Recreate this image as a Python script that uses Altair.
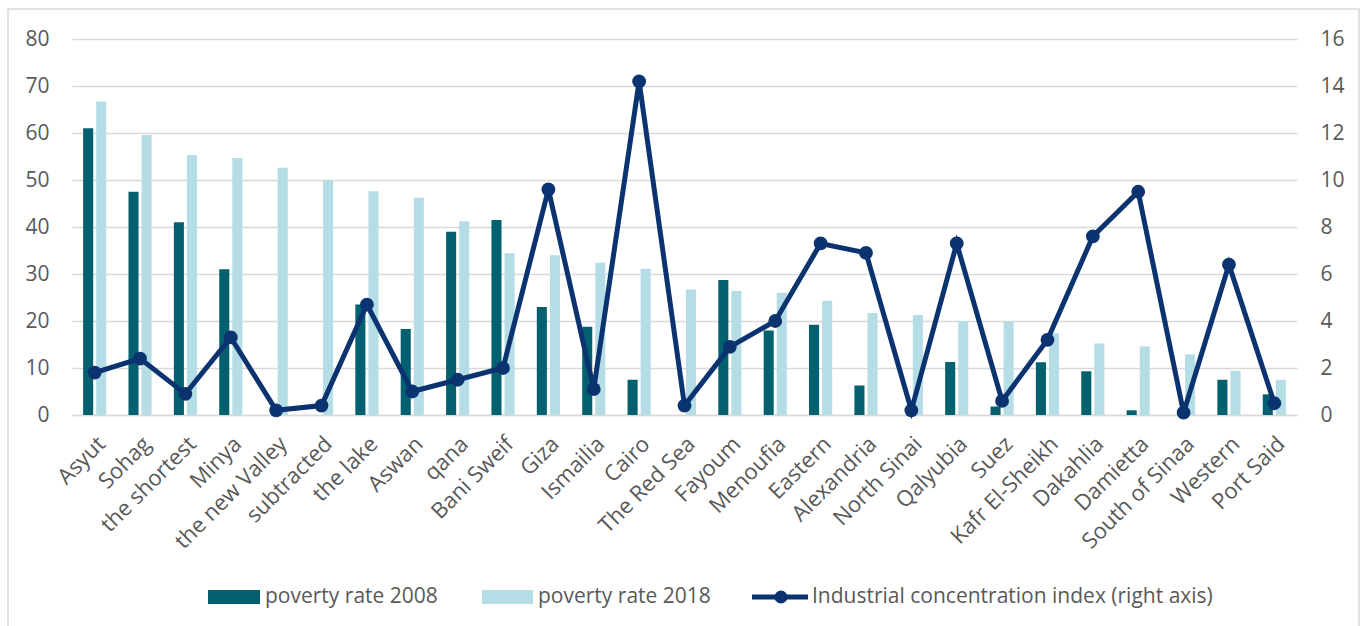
import altair as alt
import pandas as pd

regions = ["Asyut", "Sohag", "the shortest", "Minya", "the new Valley", "subtracted",
           "the lake", "Aswan", "qana", "Bani Sweif", "Giza", "Ismailia", "Cairo",
           "The Red Sea", "Fayoum", "Menoufia", "Eastern", "Alexandria", "North Sinai",
           "Qalyubia", "Suez", "Kafr El-Sheikh", "Dakahlia", "Damietta", "South of Sinaa",
           "Western", "Port Said"]
poverty_2008 = [61.0, 47.5, 41.0, 31.0, 0.0, 0.0, 23.5, 18.3, 39.0, 41.5, 23.0, 18.8, 7.5,
                0.0, 28.7, 18.0, 19.2, 6.3, 0.0, 11.3, 1.8, 11.2, 9.3, 1.0, 0.0, 7.5, 4.4]
poverty_2018 = [66.7, 59.6, 55.3, 54.7, 52.6, 50.0, 47.6, 46.2, 41.2, 34.4, 34.0, 32.4, 31.1,
                26.7, 26.4, 26.0, 24.3, 21.7, 21.3, 20.0, 19.9, 17.4, 15.2, 14.6, 12.9, 9.4, 7.5]
industrial_index = [1.8, 2.4, 0.9, 3.3, 0.2, 0.4, 4.7, 1.0, 1.5, 2.0, 9.6, 1.1, 14.2,
                    0.4, 2.9, 4.0, 7.3, 6.9, 0.2, 7.3, 0.6, 3.2, 7.6, 9.5, 0.1, 6.4, 0.5]
series_names = ["poverty rate 2008", "poverty rate 2018",
                "Industrial concentration index (right axis)"]

DARK = "#03606f"
LIGHT = "#b5dde6"
NAVY = "#0b3370"
GRID = "#d9d9d9"
TEXT = "#595959"
FONT = "Open Sans"

bars_df = pd.DataFrame({
    "region": regions * 2,
    "series": [series_names[0]] * len(regions) + [series_names[1]] * len(regions),
    "value": poverty_2008 + poverty_2018,
})
line_df = pd.DataFrame({"region": regions, "index": industrial_index})

W, H = 1225, 376

xscale = alt.Scale(paddingInner=0.49, paddingOuter=0.245)
xaxis = alt.Axis(title=None, labelAngle=-45, labelAlign="right", labelBaseline="top",
                 labelFontSize=22, labelColor=TEXT, labelFont=FONT, ticks=False,
                 domainColor=GRID, domainWidth=1.3, labelPadding=18, grid=False)

bars = alt.Chart(bars_df).mark_bar().encode(
    x=alt.X("region:N", sort=regions, scale=xscale, axis=xaxis),
    xOffset=alt.XOffset("series:N", sort=series_names[:2],
                        scale=alt.Scale(paddingInner=0.23)),
    y=alt.Y("value:Q", scale=alt.Scale(domain=[0, 80]),
            axis=alt.Axis(title=None, values=list(range(0, 81, 10)), grid=True,
                          gridColor=GRID, gridWidth=1.3, ticks=False, domain=False,
                          labelFontSize=21, labelColor=TEXT,
                          labelFont=FONT, labelPadding=23)),
    color=alt.Color("series:N", sort=series_names[:2],
                    scale=alt.Scale(domain=series_names[:2], range=[DARK, LIGHT]),
                    legend=None),
)

yright = alt.Y("index:Q", scale=alt.Scale(domain=[0, 16]),
               axis=alt.Axis(title=None, orient="right", values=list(range(0, 17, 2)),
                             grid=False, ticks=False, domain=False,
                             labelFontSize=21, labelColor=TEXT, labelFont=FONT,
                             labelPadding=23))
line = alt.Chart(line_df).mark_line(color=NAVY, strokeWidth=5).encode(
    x=alt.X("region:N", sort=regions), y=yright)
pts = alt.Chart(line_df).mark_circle(color=NAVY, size=190, opacity=1).encode(
    x=alt.X("region:N", sort=regions), y=yright)
right = alt.layer(line, pts)

# legend (manual)
ly = 558
LFS = 21
leg1 = alt.Chart(pd.DataFrame({"label": [series_names[0]]})).mark_rect(color=DARK).encode(
    x=alt.value(136), x2=alt.value(188), y=alt.value(ly - 7), y2=alt.value(ly + 7))
leg1t = alt.Chart(pd.DataFrame({"label": [series_names[0]]})).mark_text(
    align="left", baseline="middle", fontSize=LFS, font=FONT, color=TEXT).encode(
    x=alt.value(193), y=alt.value(ly), text="label:N")
leg2 = alt.Chart(pd.DataFrame({"label": [series_names[1]]})).mark_rect(color=LIGHT).encode(
    x=alt.value(410), x2=alt.value(461), y=alt.value(ly - 7), y2=alt.value(ly + 7))
leg2t = alt.Chart(pd.DataFrame({"label": [series_names[1]]})).mark_text(
    align="left", baseline="middle", fontSize=LFS, font=FONT, color=TEXT).encode(
    x=alt.value(466), y=alt.value(ly), text="label:N")
leg3 = alt.Chart(pd.DataFrame({"label": [series_names[2]]})).mark_rule(
    color=NAVY, strokeWidth=5).encode(
    x=alt.value(680), x2=alt.value(736), y=alt.value(ly))
leg3p = alt.Chart(pd.DataFrame({"label": [series_names[2]]})).mark_circle(
    color=NAVY, size=170, opacity=1).encode(x=alt.value(709), y=alt.value(ly))
leg3t = alt.Chart(pd.DataFrame({"label": [series_names[2]]})).mark_text(
    align="left", baseline="middle", fontSize=LFS, font=FONT, color=TEXT).encode(
    x=alt.value(740), y=alt.value(ly), text="label:N")

border = alt.Chart(pd.DataFrame({"label": ["frame"]})).mark_rect(
    fillOpacity=0, stroke=GRID, strokeWidth=1.5).encode(
    x=alt.value(-64), x2=alt.value(1287), y=alt.value(-30), y2=alt.value(600))

chart = alt.layer(
    border, bars, right, leg1, leg1t, leg2, leg2t, leg3, leg3p, leg3t
).resolve_scale(y="independent").properties(
    width=W, height=H, background="white",
    padding={"left": 7, "top": 8, "right": 0, "bottom": 0}
).configure_view(strokeOpacity=0, strokeWidth=0.01)

chart.save("out.html", embed_options={"renderer": "svg", "actions": False})
